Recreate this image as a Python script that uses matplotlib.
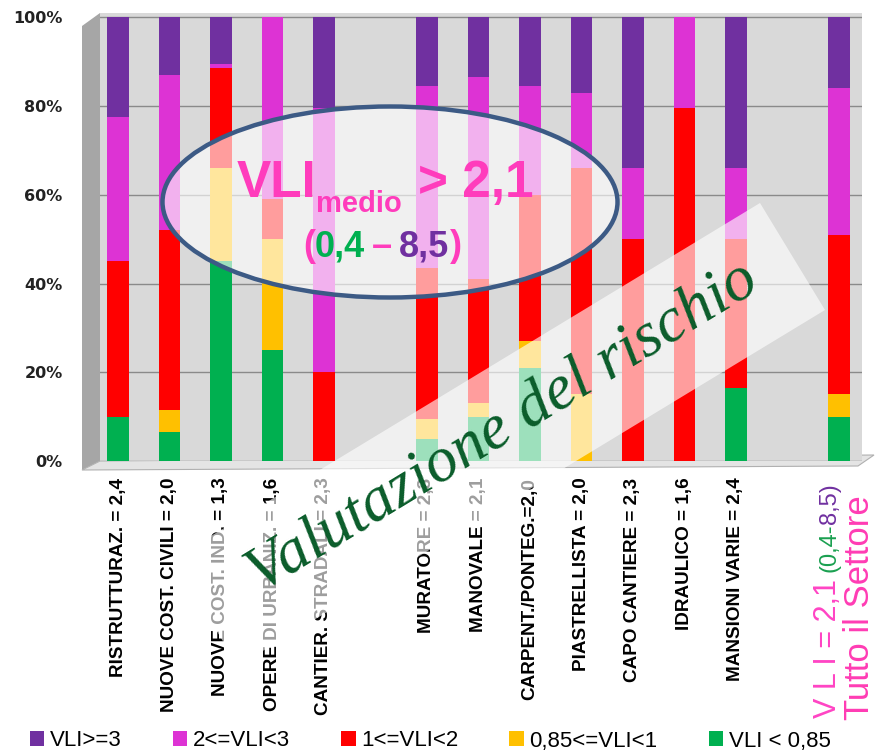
import numpy as np
import matplotlib
matplotlib.use("Agg")
import matplotlib.pyplot as plt
from matplotlib.patches import Polygon, Ellipse

# ---------------- data ----------------
categories = ["RISTRUTTURAZ. = 2,4", "NUOVE COST. CIVILI = 2,0", "NUOVE COST. IND. = 1,3",
              "OPERE DI URBANIZ. = 1,6", "CANTIER. STRADALI = 2,3", "",
              "MURATORE = 2,3", "MANOVALE = 2,1", "CARPENT./PONTEG.=2,0",
              "PIASTRELLISTA = 2,0", "CAPO CANTIERE = 2,3", "IDRAULICO = 1,6",
              "MANSIONI VARIE = 2,4", "", ""]
vli_lt_085 = [10, 6.5, 45, 25, 0, 0, 5, 10, 21, 0, 0, 0, 16.5, 0, 10]
vli_085_1 = [0, 5, 21, 25, 0, 0, 4.5, 3, 6, 15, 0, 0, 0, 0, 5]
vli_1_2 = [35, 40.5, 22.5, 9, 20, 0, 34, 28, 33, 51, 50, 79.5, 33.5, 0, 36]
vli_2_3 = [32.5, 35, 1, 41, 59.5, 0, 41, 45.5, 24.6, 17, 16, 20.5, 16, 0, 33]
vli_ge_3 = [22.5, 13, 10.5, 0, 20.5, 0, 15.5, 13.5, 15.4, 17, 34, 0, 34, 0, 16]
series_labels = ["VLI < 0,85", "0,85<=VLI<1", "1<=VLI<2", "2<=VLI<3", "VLI>=3"]
series_colors = ["#00b050", "#ffc000", "#ff0000", "#dd33d4", "#7030a0"]
yticks = [0, 20, 40, 60, 80, 100]
ytick_labels = ["0%", "20%", "40%", "60%", "80%", "100%"]

SANS = ["Liberation Sans", "DejaVu Sans"]
PINK = "#ff3cbc"

W, H = 877, 755
fig = plt.figure(figsize=(W / 100, H / 100), dpi=100)
fig.patch.set_facecolor("white")


def P(x, y):
    return (x / W, 1 - y / H)


ax = fig.add_axes([100 / W, 1 - 461 / H, 762 / W, 448 / H])
ax.set_facecolor("#d9d9d9")
ax.set_xlim(-0.35, 14.45)
ax.set_ylim(0, 101)
ax.set_axisbelow(True)
ax.yaxis.grid(True, color="#8a8a8a", lw=1)
for s in ax.spines.values():
    s.set_visible(False)

x = np.arange(len(categories))
series = [vli_lt_085, vli_085_1, vli_1_2, vli_2_3, vli_ge_3]
bottom = np.zeros(len(categories))
for vals, lab, col in zip(series, series_labels, series_colors):
    v = np.array(vals, dtype=float)
    ax.bar(x, v, bottom=bottom, width=0.42, color=col, label=lab, lw=0, zorder=3)
    bottom += v

ax.set_yticks(yticks, ytick_labels)
ax.tick_params(axis="y", length=0, pad=27)
for t in ax.get_yticklabels():
    t.set_fontweight("bold")
    t.set_fontsize(11.5)
    t.set_color("#222222")
ax.set_xticks(x, categories, rotation=90)
ax.tick_params(axis="x", length=0, pad=12)
for t in ax.get_xticklabels():
    t.set_family(SANS)
    t.set_fontweight("bold")
    t.set_fontsize(13.6)
    t.set_va("top")

# 3D-like wall and floor
fig.add_artist(Polygon([P(82, 26), P(100, 13), P(100, 461), P(82, 470)], closed=True,
                       fc="#a6a6a6", ec="none", transform=fig.transFigure, zorder=-1))
fig.add_artist(Polygon([P(82, 470), P(100, 461), P(874, 455), P(858, 466)], closed=True,
                       fc="#e4e4e4", ec="#b0b0b0", lw=0.8, transform=fig.transFigure, zorder=-1))

# translucent band
fig.add_artist(Polygon([P(760, 203), P(825, 310), P(238, 666), P(173, 559)], closed=True,
                       fc=(1, 1, 1, 0.62), ec="none", transform=fig.transFigure, zorder=5))

# ellipse
cx, cy = P(390, 202)
fig.add_artist(Ellipse((cx, cy), 455 / W, 191 / H, fc=(1, 1, 1, 0.62), ec="#3c5a85", lw=3.2,
                       transform=fig.transFigure, zorder=6))

renderer = fig.canvas.get_renderer()
inv = fig.transFigure.inverted()


def chain(parts, x0, y0, rotation=0, zorder=8):
    xx, yy = x0, y0
    for s, col, size, gap, weight in parts:
        t = fig.text(xx, yy, s, color=col, fontsize=size, fontweight=weight, family=SANS,
                     rotation=rotation, rotation_mode="anchor", ha="left", va="baseline",
                     zorder=zorder)
        bb = t.get_window_extent(renderer)
        if rotation == 0:
            xx = inv.transform((bb.x1 + gap, 0))[0]
        else:
            yy = inv.transform((0, bb.y1 + gap))[1]


chain([("VLI", PINK, 37, 2, "bold"), ], *P(237, 197))
fig.text(*P(316, 212), "medio", color=PINK, fontsize=21, fontweight="bold", family=SANS,
         ha="left", va="baseline", zorder=8)
fig.text(*P(418, 197), "> 2,1", color=PINK, fontsize=37, fontweight="bold", family=SANS,
         ha="left", va="baseline", zorder=8)
chain([("(", PINK, 26, 0, "bold"), ("0,4", "#00b050", 26, 7, "bold"),
       ("\u2013", PINK, 26, 7, "bold"), ("8,5", "#7030a0", 26, 0, "bold"),
       (")", PINK, 26, 0, "bold")], *P(303, 256))

# right-side vertical texts
chain([("V L I = 2,1", "#ff44c4", 22, 7, "normal"), ("(0,4-", "#1aa050", 17, 0, "normal"),
       ("8,5)", "#7030a0", 17, 0, "normal")], *P(836, 718), rotation=90)
fig.text(*P(869, 720), "Tutto il Settore", color="#ff3cb4", fontsize=25, family=SANS,
         rotation=90, rotation_mode="anchor", ha="left", va="baseline", zorder=8)

# script text
fig.text(*P(511, 441), "Valutazione del rischio", rotation=31.3, rotation_mode="anchor",
         ha="center", va="baseline", fontsize=46, family=["Liberation Serif", "DejaVu Serif"],
         style="italic", color="#0a5c2a", zorder=10)

# legend
h, l = ax.get_legend_handles_labels()
fig.legend(h[::-1], l[::-1], loc="center left", bbox_to_anchor=P(30, 741), ncol=5,
           frameon=False, handlelength=0.65, handleheight=0.65, handletextpad=0.25,
           columnspacing=2.3, borderpad=0, borderaxespad=0,
           prop={"family": SANS, "size": 16})

fig.savefig("out.png", dpi=100)
